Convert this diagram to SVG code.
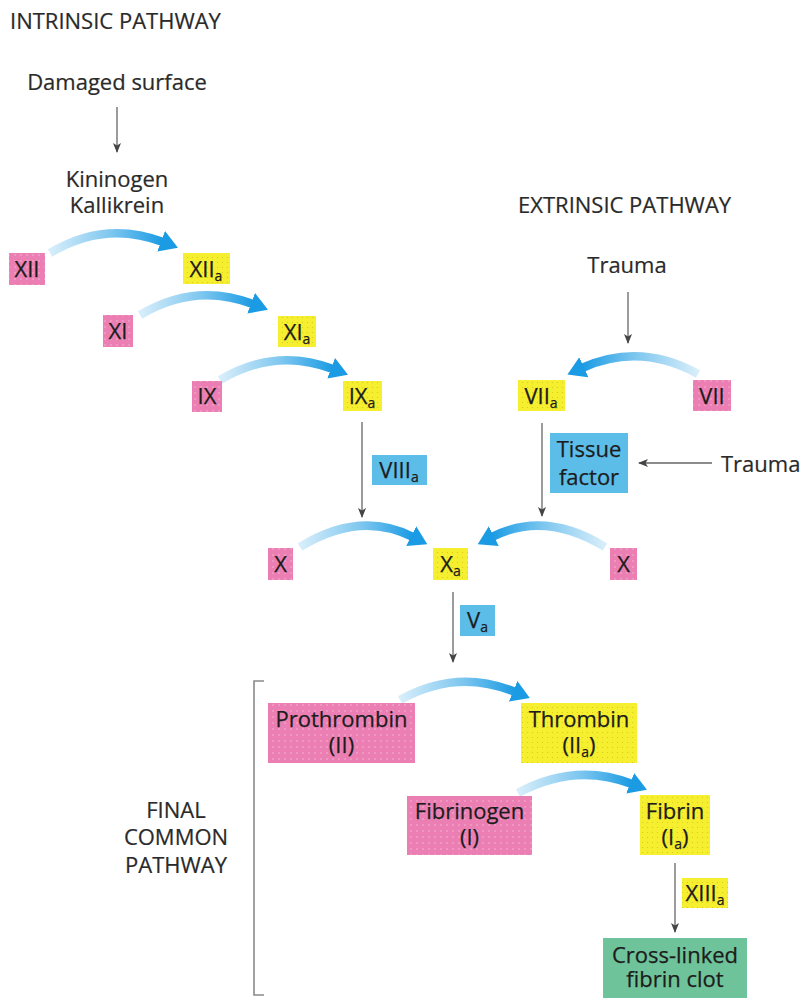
<svg xmlns="http://www.w3.org/2000/svg" width="801" height="998" viewBox="0 0 801 998">
<style>
.lbl{font-family:"Open Sans","Noto Sans","DejaVu Sans",sans-serif;font-size:22px;fill:#2a2a2a;stroke:#2a2a2a;stroke-width:0.2}
.bt{font-family:"Open Sans","Noto Sans","DejaVu Sans",sans-serif;font-size:22px;fill:#1c1c1c;stroke:#1c1c1c;stroke-width:0.25;text-anchor:middle}
.sub{font-size:14px}
.pink{fill:#eb7fb3}
.yel{fill:#f6ef2f}
.blue{fill:#5cbde9}
.green{fill:#6fc39a}
.gl{stroke:#666;stroke-width:1.3;fill:none}
.arc{fill:none;stroke-width:8.5;stroke-linecap:butt}
.lr{stroke:url(#gLR)}
.rl{stroke:url(#gRL)}
</style>
<defs>
<linearGradient id="gLR" x1="0" y1="0" x2="1" y2="0">
<stop offset="0" stop-color="#d8eefa"/>
<stop offset="0.55" stop-color="#7cc6ef"/>
<stop offset="1" stop-color="#1b9be3"/>
</linearGradient>
<linearGradient id="gRL" x1="1" y1="0" x2="0" y2="0">
<stop offset="0" stop-color="#d8eefa"/>
<stop offset="0.55" stop-color="#7cc6ef"/>
<stop offset="1" stop-color="#1b9be3"/>
</linearGradient>
<marker id="bh" viewBox="0 0 18 22" refX="2" refY="11" markerWidth="18" markerHeight="22" markerUnits="userSpaceOnUse" orient="auto">
<path d="M0,0 L18,11 L0,22 Z" fill="#1b9be3"/>
</marker>
<marker id="ah" viewBox="0 0 10 8" refX="9" refY="4" markerWidth="10" markerHeight="8" markerUnits="userSpaceOnUse" orient="auto">
<path d="M0,0 L10,4 L0,8 L2.5,4 Z" fill="#444"/>
</marker>
<pattern id="dotsY" width="5" height="5" patternUnits="userSpaceOnUse">
<circle cx="2.5" cy="2.5" r="0.6" fill="#a89c00" opacity="0.45"/>
</pattern>
<pattern id="dotsP" width="6" height="6" patternUnits="userSpaceOnUse">
<circle cx="3" cy="3" r="0.7" fill="#ffffff" opacity="0.5"/>
</pattern>
</defs>

<g id="titles">
<text class="lbl" x="10" y="29">INTRINSIC PATHWAY</text>
<text class="lbl" x="117" y="90" text-anchor="middle">Damaged surface</text>
<text class="lbl" x="117" y="187" text-anchor="middle">Kininogen</text>
<text class="lbl" x="117" y="213" text-anchor="middle">Kallikrein</text>
<text class="lbl" x="518" y="213">EXTRINSIC PATHWAY</text>
<text class="lbl" x="627" y="273" text-anchor="middle">Trauma</text>
<text class="lbl" x="721" y="472">Trauma</text>
<text class="lbl" x="176" y="818" text-anchor="middle">FINAL</text>
<text class="lbl" x="176" y="845" text-anchor="middle">COMMON</text>
<text class="lbl" x="176" y="873" text-anchor="middle">PATHWAY</text>
</g>

<g id="connectors">
<path class="gl" d="M117,107 L117,152" marker-end="url(#ah)"/>
<path class="gl" d="M628,292 L628,343" marker-end="url(#ah)"/>
<path class="gl" d="M362,422 L362,517" marker-end="url(#ah)"/>
<path class="gl" d="M542,423 L542,516" marker-end="url(#ah)"/>
<path class="gl" d="M712,463 L639,463" marker-end="url(#ah)"/>
<path class="gl" d="M453,592 L453,662" marker-end="url(#ah)"/>
<path class="gl" d="M675,863 L675,932" marker-end="url(#ah)"/>
<path d="M264,681 L254,681 L254,995 L264,995" fill="none" stroke="#8a8a8a" stroke-width="1.6"/>
<path class="arc lr" d="M50,253 Q105,220 163,242" marker-end="url(#bh)"/>
<path class="arc lr" d="M140,315 Q195,282 253,304" marker-end="url(#bh)"/>
<path class="arc lr" d="M220,380 Q275,347 333,369" marker-end="url(#bh)"/>
<path class="arc rl" d="M698,374 Q640,342 582,368" marker-end="url(#bh)"/>
<path class="arc lr" d="M300,547 Q360,510 413,537" marker-end="url(#bh)"/>
<path class="arc rl" d="M605,547 Q545,510 492,537" marker-end="url(#bh)"/>
<path class="arc lr" d="M400,700 Q457,668 515,692" marker-end="url(#bh)"/>
<path class="arc lr" d="M518,793 Q575,762 632,784" marker-end="url(#bh)"/>
</g>

<g id="n-XII"><rect class="pink" x="9" y="253" width="36" height="32"/><rect fill="url(#dotsP)" x="9" y="253" width="36" height="32"/><text class="bt" x="27" y="277">XII</text></g>
<g id="n-XIIa"><rect class="yel" x="183" y="253" width="47" height="31"/><rect fill="url(#dotsY)" x="183" y="253" width="47" height="31"/><text class="bt" x="206" y="277">XII<tspan class="sub" dy="4">a</tspan></text></g>
<g id="n-XI"><rect class="pink" x="103" y="315" width="30" height="32"/><rect fill="url(#dotsP)" x="103" y="315" width="30" height="32"/><text class="bt" x="118" y="339">XI</text></g>
<g id="n-XIa"><rect class="yel" x="278" y="316" width="38" height="31"/><rect fill="url(#dotsY)" x="278" y="316" width="38" height="31"/><text class="bt" x="297" y="340">XI<tspan class="sub" dy="4">a</tspan></text></g>
<g id="n-IX"><rect class="pink" x="192" y="381" width="30" height="31"/><rect fill="url(#dotsP)" x="192" y="381" width="30" height="31"/><text class="bt" x="207" y="404">IX</text></g>
<g id="n-IXa"><rect class="yel" x="343" y="381" width="39" height="30"/><rect fill="url(#dotsY)" x="343" y="381" width="39" height="30"/><text class="bt" x="362" y="404">IX<tspan class="sub" dy="4">a</tspan></text></g>
<g id="n-VIIa"><rect class="yel" x="518" y="380" width="47" height="31"/><rect fill="url(#dotsY)" x="518" y="380" width="47" height="31"/><text class="bt" x="541" y="404">VII<tspan class="sub" dy="4">a</tspan></text></g>
<g id="n-VII"><rect class="pink" x="693" y="380" width="38" height="31"/><rect fill="url(#dotsP)" x="693" y="380" width="38" height="31"/><text class="bt" x="712" y="404">VII</text></g>
<g id="n-VIIIa"><rect class="blue" x="372" y="455" width="55" height="30"/><text class="bt" x="399" y="478">VIII<tspan class="sub" dy="4">a</tspan></text></g>
<g id="n-tissue"><rect class="blue" x="550" y="433" width="78" height="60"/><text class="bt" x="589" y="457">Tissue</text><text class="bt" x="589" y="485">factor</text></g>
<g id="n-Xl"><rect class="pink" x="268" y="548" width="25" height="32"/><rect fill="url(#dotsP)" x="268" y="548" width="25" height="32"/><text class="bt" x="280.5" y="572">X</text></g>
<g id="n-Xa"><rect class="yel" x="433" y="548" width="35" height="32"/><rect fill="url(#dotsY)" x="433" y="548" width="35" height="32"/><text class="bt" x="450.5" y="572">X<tspan class="sub" dy="4">a</tspan></text></g>
<g id="n-Xr"><rect class="pink" x="610" y="548" width="27" height="32"/><rect fill="url(#dotsP)" x="610" y="548" width="27" height="32"/><text class="bt" x="623.5" y="572">X</text></g>
<g id="n-Va"><rect class="blue" x="460" y="605" width="35" height="31"/><text class="bt" x="477.5" y="628">V<tspan class="sub" dy="4">a</tspan></text></g>
<g id="n-prothrombin"><rect class="pink" x="268" y="703" width="147" height="60"/><rect fill="url(#dotsP)" x="268" y="703" width="147" height="60"/><text class="bt" x="341.5" y="727">Prothrombin</text><text class="bt" x="341.5" y="753">(II)</text></g>
<g id="n-thrombin"><rect class="yel" x="521" y="703" width="116" height="60"/><rect fill="url(#dotsY)" x="521" y="703" width="116" height="60"/><text class="bt" x="579" y="727">Thrombin</text><text class="bt" x="579" y="753">(II<tspan class="sub" dy="4">a</tspan><tspan dy="-4">)</tspan></text></g>
<g id="n-fibrinogen"><rect class="pink" x="407" y="796" width="125" height="59"/><rect fill="url(#dotsP)" x="407" y="796" width="125" height="59"/><text class="bt" x="469.5" y="819">Fibrinogen</text><text class="bt" x="469.5" y="845">(I)</text></g>
<g id="n-fibrin"><rect class="yel" x="640" y="795" width="70" height="60"/><rect fill="url(#dotsY)" x="640" y="795" width="70" height="60"/><text class="bt" x="675" y="819">Fibrin</text><text class="bt" x="675" y="845">(I<tspan class="sub" dy="4">a</tspan><tspan dy="-4">)</tspan></text></g>
<g id="n-XIIIa"><rect class="yel" x="682" y="878" width="46" height="30"/><rect fill="url(#dotsY)" x="682" y="878" width="46" height="30"/><text class="bt" x="705" y="901">XIII<tspan class="sub" dy="4">a</tspan></text></g>
<g id="n-clot"><rect class="green" x="603" y="938" width="144" height="60"/><text class="bt" x="675" y="963">Cross-linked</text><text class="bt" x="675" y="987">fibrin clot</text></g>
</svg>
